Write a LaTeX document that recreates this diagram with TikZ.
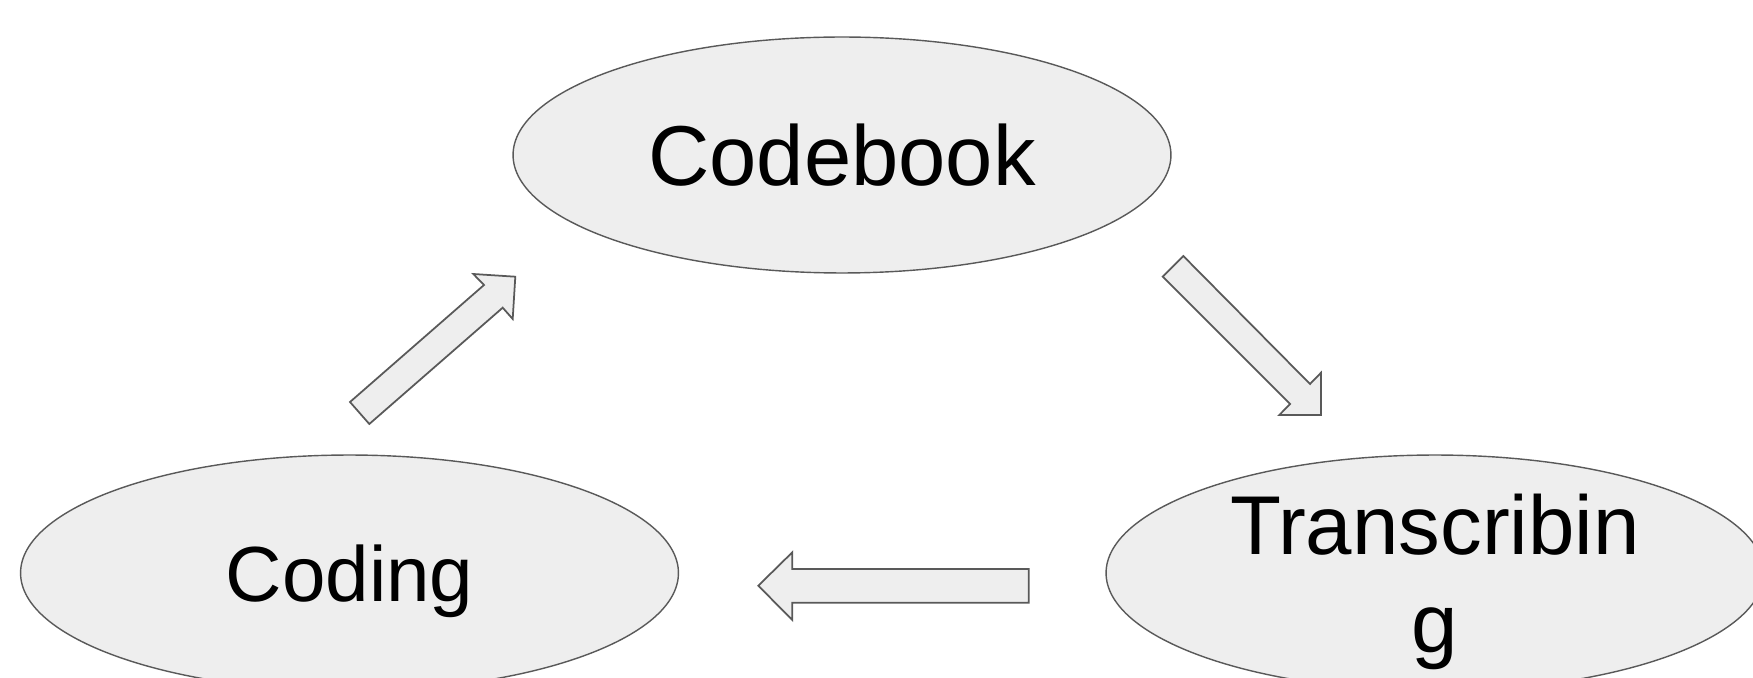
\documentclass[tikz,border=0pt]{standalone}
\usepackage{fontspec}
\setmainfont{Liberation Sans}
\usetikzlibrary{shapes.geometric}
\definecolor{shapefill}{HTML}{EEEEEE}
\definecolor{shapeline}{HTML}{595959}
\begin{document}
\begin{tikzpicture}[x=0.02cm,y=-0.02cm,
  stage/.style={ellipse, draw=shapeline, line width=0.8pt, fill=shapefill,
    minimum width=13.16cm, minimum height=4.72cm, inner sep=0pt,
    text depth=0pt, align=center},
  blockarrow/.style={draw=shapeline, fill=shapefill, line width=1pt, line join=miter}]
\useasboundingbox (0,0) rectangle (1753,678);
\clip (0,0) rectangle (1753,678);

% the three stages of the cycle
\node[stage, font=\fontsize{48.4}{54}\selectfont] (codebook) at (842,155) {Codebook};
\node[stage, font=\fontsize{44.5}{50}\selectfont] (coding) at (349.5,573) {Coding};
\node[stage, font=\fontsize{47.5}{56}\selectfont] (transcribing) at (1435,573) {Transcribin\\g};

% block arrow: coding -> codebook
\draw[blockarrow] (350,402) -- (484,285) -- (473.3,274) -- (515.3,276.7)
  -- (512.7,319) -- (502.7,307.7) -- (369.3,424) -- cycle;

% block arrow: codebook -> transcribing
\draw[blockarrow] (1183.3,256) -- (1310,384) -- (1321,372.7) -- (1321,415)
  -- (1279.3,415) -- (1290,404) -- (1162.7,276.7) -- cycle;

% block arrow: transcribing -> coding
\draw[blockarrow] (1028.7,569) -- (792.3,569) -- (792.3,552.3) -- (758.3,585.7)
  -- (792.3,620) -- (792.3,602.7) -- (1028.7,602.7) -- cycle;
\end{tikzpicture}
\end{document}
